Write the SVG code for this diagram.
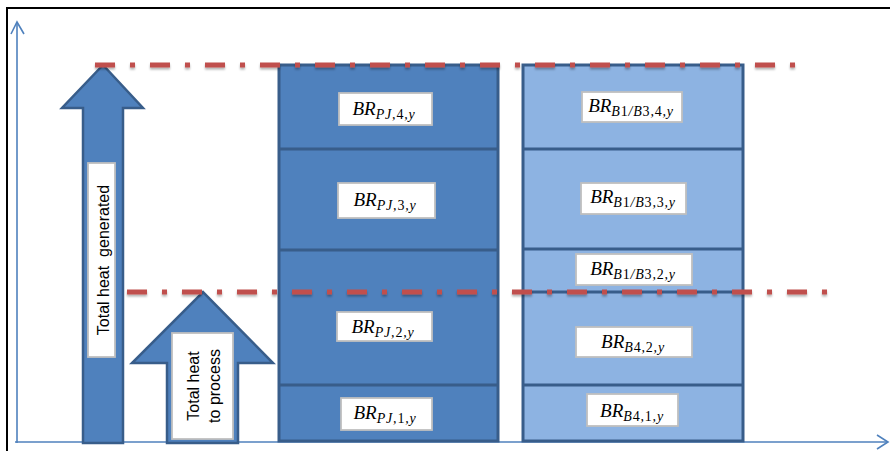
<svg xmlns="http://www.w3.org/2000/svg" width="890" height="451" viewBox="0 0 890 451">
  <style>
    .frame { fill: none; stroke: #000; stroke-width: 2; }
    .axis { fill: none; stroke: #4F81BD; stroke-width: 1.6; }
    .arrow { fill: #4F81BD; stroke: #385D8A; stroke-width: 2.5; stroke-linejoin: miter; }
    .col-dark { fill: #4F81BD; stroke: #385D8A; stroke-width: 3; }
    .col-light { fill: #8DB3E2; stroke: #385D8A; stroke-width: 3; }
    .divider { stroke: #385D8A; stroke-width: 3; }
    .box { fill: #fff; stroke: #BFBFBF; stroke-width: 1.8; }
    .rot { font-family: "Liberation Sans", Arial, sans-serif; font-size: 16px; fill: #000; text-anchor: middle; }
    .br { font-family: "Liberation Serif", "Times New Roman", serif; font-style: italic; font-size: 19px; fill: #000; text-anchor: middle; }
    .sub { font-size: 14px; letter-spacing: 0.8px; }
    .up { font-style: normal; }
    .level { fill: none; stroke: #C0504D; stroke-width: 5; stroke-dasharray: 20 15 5 15; }
  </style>
  <defs>
    <!-- user-space region so zero-height lines still get the soft shadow -->
    <filter id="shadow" filterUnits="userSpaceOnUse" x="0" y="0" width="890" height="451">
      <feDropShadow dx="0" dy="2" stdDeviation="1.2" flood-color="#000" flood-opacity="0.3"/>
    </filter>
  </defs>

  <rect width="890" height="451" fill="#fff"/>
  <!-- outer frame (left and top edges) -->
  <path class="frame" d="M7,451 V8 H890"/>

  <!-- axes -->
  <g id="axes">
    <path class="axis" d="M17,443 V22"/>
    <path class="axis" d="M11,34 L17,22 L24,34"/>
    <path class="axis" d="M15,442 H888"/>
    <path class="axis" d="M877,435 L888,442 L877,449"/>
  </g>

  <!-- total heat generated arrow -->
  <g id="heat-generated">
    <path class="arrow" d="M83,443 V108 H62 L103,65 L143,108 H123 V443 Z"/>
    <rect class="box" x="88" y="163" width="27" height="194"/>
    <text class="rot" transform="translate(109,260) rotate(-90)" xml:space="preserve">Total heat  generated</text>
  </g>

  <!-- total heat to process arrow -->
  <g id="heat-process">
    <path class="arrow" d="M167,443 V363 H132 L203,292 L273,363 H238 V443 Z"/>
    <rect class="box" x="172" y="333" width="61" height="106"/>
    <text class="rot" transform="translate(199,386) rotate(-90)">Total heat</text>
    <text class="rot" transform="translate(220,386) rotate(-90)">to process</text>
  </g>

  <!-- project column -->
  <g id="col-pj">
    <rect class="col-dark" x="279" y="65" width="219" height="376"/>
    <line class="divider" x1="279" y1="149" x2="498" y2="149"/>
    <line class="divider" x1="279" y1="250" x2="498" y2="250"/>
    <line class="divider" x1="279" y1="385" x2="498" y2="385"/>
  </g>
  <g id="br-pj-4">
    <rect class="box" x="339" y="93" width="93" height="32"/>
    <text class="br" x="384" y="115">BR<tspan class="sub" dy="4">PJ,<tspan class="up">4</tspan>,y</tspan></text>
  </g>
  <g id="br-pj-3">
    <rect class="box" x="338" y="183" width="97" height="35"/>
    <text class="br" x="385" y="206">BR<tspan class="sub" dy="4">PJ,<tspan class="up">3</tspan>,y</tspan></text>
  </g>
  <g id="br-pj-2">
    <rect class="box" x="337" y="312" width="95" height="29"/>
    <text class="br" x="383" y="333">BR<tspan class="sub" dy="4">PJ,<tspan class="up">2</tspan>,y</tspan></text>
  </g>
  <g id="br-pj-1">
    <rect class="box" x="341" y="398" width="91" height="32"/>
    <text class="br" x="385" y="419">BR<tspan class="sub" dy="4">PJ,<tspan class="up">1</tspan>,y</tspan></text>
  </g>

  <!-- baseline column -->
  <g id="col-b">
    <rect class="col-light" x="523" y="65" width="220" height="376"/>
    <line class="divider" x1="523" y1="149" x2="743" y2="149"/>
    <line class="divider" x1="523" y1="249" x2="743" y2="249"/>
    <line class="divider" x1="523" y1="292" x2="743" y2="292"/>
    <line class="divider" x1="523" y1="385" x2="743" y2="385"/>
  </g>
  <g id="br-b13-4">
    <rect class="box" x="582" y="92" width="100" height="30"/>
    <text class="br" x="631" y="112">BR<tspan class="sub" dy="4">B<tspan class="up">1</tspan>/B<tspan class="up">3</tspan>,<tspan class="up">4</tspan>,y</tspan></text>
  </g>
  <g id="br-b13-3">
    <rect class="box" x="581" y="183" width="105" height="31"/>
    <text class="br" x="633" y="203">BR<tspan class="sub" dy="4">B<tspan class="up">1</tspan>/B<tspan class="up">3</tspan>,<tspan class="up">3</tspan>,y</tspan></text>
  </g>
  <g id="br-b13-2">
    <rect class="box" x="576" y="254" width="116" height="31"/>
    <text class="br" x="633" y="275">BR<tspan class="sub" dy="4">B<tspan class="up">1</tspan>/B<tspan class="up">3</tspan>,<tspan class="up">2</tspan>,y</tspan></text>
  </g>
  <g id="br-b4-2">
    <rect class="box" x="576" y="327" width="116" height="30"/>
    <text class="br" x="633" y="348">BR<tspan class="sub" dy="4">B<tspan class="up">4</tspan>,<tspan class="up">2</tspan>,y</tspan></text>
  </g>
  <g id="br-b4-1">
    <rect class="box" x="587" y="394" width="91" height="32"/>
    <text class="br" x="632" y="417">BR<tspan class="sub" dy="4">B<tspan class="up">4</tspan>,<tspan class="up">1</tspan>,y</tspan></text>
  </g>

  <!-- heat level lines -->
  <g id="levels" filter="url(#shadow)">
    <line class="level" x1="95" y1="65" x2="798" y2="65"/>
    <line class="level" x1="127" y1="292" x2="828" y2="292"/>
  </g>
</svg>
